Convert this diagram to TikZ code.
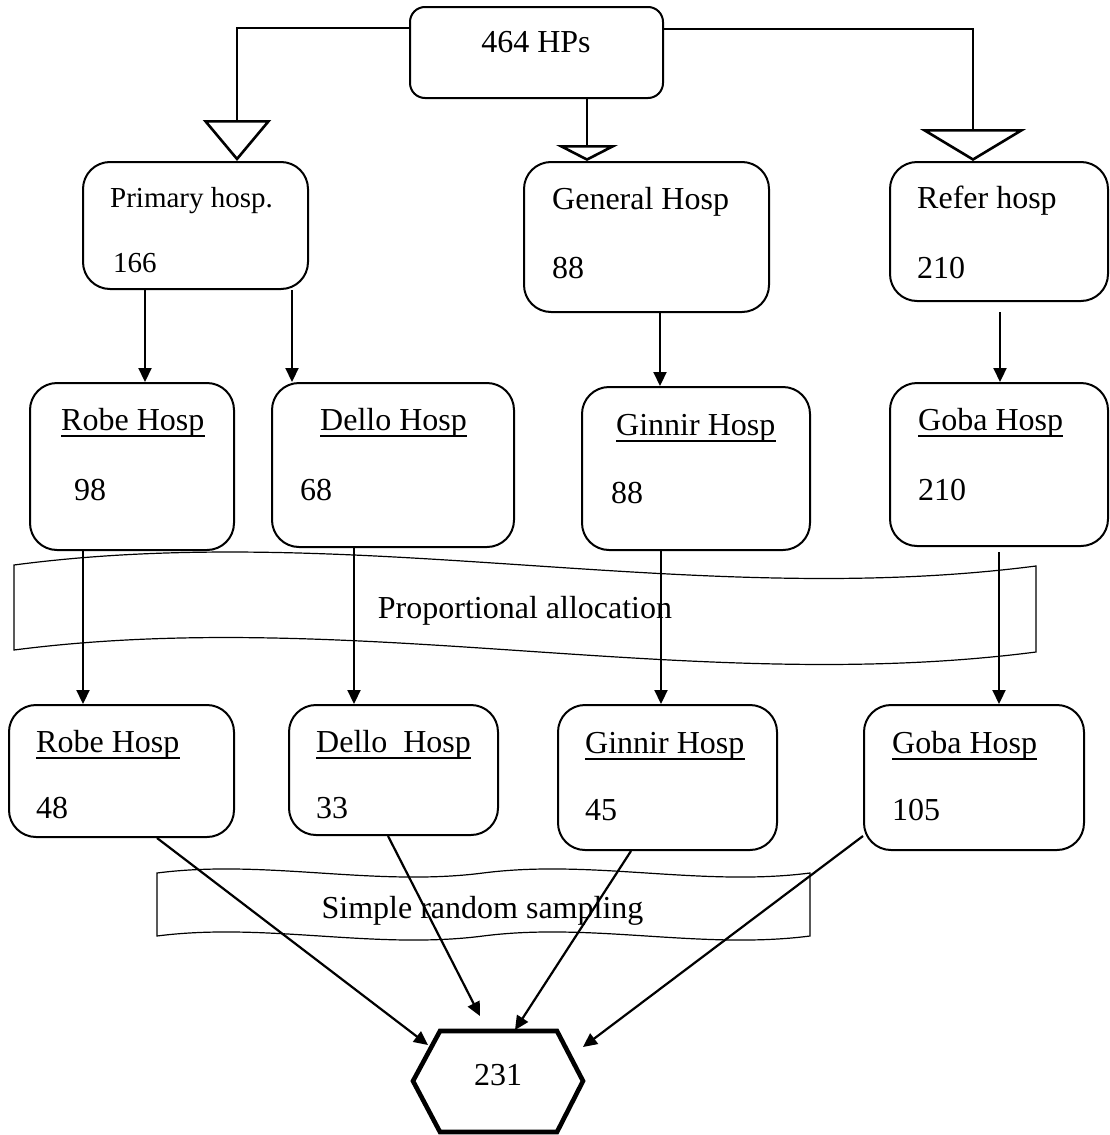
\documentclass[tikz,border=0pt]{standalone}
\usepackage{fontspec}
\setmainfont{Liberation Serif}
\usetikzlibrary{arrows.meta}

\begin{document}
\begin{tikzpicture}[x=1pt, y=-1pt, font=\fontsize{32}{38}\selectfont,
    hbox/.style={draw, line width=2pt, rounded corners=27pt, inner sep=0pt},
    txt/.style={anchor=base west, inner sep=0pt},
    conn/.style={line width=2.6pt},
    arr/.style={line width=2.2pt, -{Triangle[length=14pt,width=13pt]}},
    band/.style={draw, line width=1.2pt, fill=white},
    uline/.style={line width=1.8pt},
    hexline/.style={line width=4.6pt, line join=miter}]
    \useasboundingbox (0,0) rectangle (1109,1135);

    \node[hbox, rounded corners=15pt, minimum width=253pt, minimum height=91pt] (top) at (536.5,52.5) {};
    \node[anchor=base, inner sep=0pt] (toptxt) at (536,52) {464 HPs};

    \foreach \name/\cx/\cy/\w/\h/\title/\tx/\ty/\num/\nx/\ny/\fs in {
        r1a/195.5/225.5/225/127/{Primary hosp.}/110/207/166/113/272/29,
        r1b/646.5/237/245/150/{General Hosp}/552/209/88/552/278/32,
        r1c/999/231.5/218/139/{Refer hosp}/917/208/210/917/278/32} {
        \node[hbox, minimum width=\w*1pt, minimum height=\h*1pt] (\name) at (\cx,\cy) {};
        \node[txt, font=\fontsize{\fs}{\fs}\selectfont] (\name-t) at (\tx,\ty) {\title};
        \node[txt, font=\fontsize{\fs}{\fs}\selectfont] (\name-n) at (\nx,\ny) {\num};
    }

    \foreach \name/\cx/\cy/\w/\h/\title/\tx/\ty/\num/\nx/\ny in {
        r2a/132/466.5/204/167/{Robe Hosp}/61/430/98/74/500,
        r2b/393/465/242/164/{Dello Hosp}/320/430/68/300/500,
        r2c/696/468.5/228/163/{Ginnir Hosp}/616/435/88/611/503,
        r2d/999/464.5/218/163/{Goba Hosp}/918/430/210/918/500,
        r3a/121.5/771/225/132/{Robe Hosp}/36/752/48/36/818,
        r3b/393.5/770/209/130/{Dello\ \ Hosp}/316/752/33/316/818,
        r3c/667.5/777.5/219/145/{Ginnir Hosp}/585/753/45/585/820,
        r3d/974/777.5/220/145/{Goba Hosp}/892/753/105/892/820} {
        \node[hbox, minimum width=\w*1pt, minimum height=\h*1pt] (\name) at (\cx,\cy) {};
        \node[txt] (\name-t) at (\tx,\ty) {\title};
        \draw[uline] ([yshift=-6pt]\name-t.base west) -- ([yshift=-6pt]\name-t.base east);
        \node[txt] (\name-n) at (\nx,\ny) {\num};
    }

    \draw[conn, -{Triangle[open, length=41pt, width=68pt]}] (top.west |- 0,28) -| (237,0 |- r1a.north);
    \draw[conn, -{Triangle[open, length=16pt, width=62pt]}] (587,0 |- top.south) -- (587,0 |- r1b.north);
    \draw[conn, -{Triangle[open, length=32pt, width=106pt]}] (top.east |- 0,29) -| (973,0 |- r1c.north);

    \draw[arr] (145,0 |- r1a.south) -- (145,0 |- r2a.north);
    \draw[arr] (292,0 |- r1a.south) -- (292,0 |- r2b.north);
    \draw[arr] (660,0 |- r1b.south) -- (660,0 |- r2c.north);
    \draw[arr] (1000,312) -- (1000,0 |- r2d.north);

    \draw[band] (14,565) .. controls (355,520) and (695,610) .. (1036,566) -- (1036,652)
        .. controls (695,696) and (355,606) .. (14,650) -- cycle;
    \node[anchor=base, inner sep=0pt] (prop) at (525,618) {Proportional allocation};

    \draw[arr] (83,0 |- r2a.south) -- (83,0 |- r3a.north);
    \draw[arr] (354,0 |- r2b.south) -- (354,0 |- r3b.north);
    \draw[arr] (661,0 |- r2c.south) -- (661,0 |- r3c.north);
    \draw[arr] (999,552) -- (999,0 |- r3d.north);

    \draw[band] (157,873) .. controls (266,859) and (374,887) .. (483,873)
        .. controls (592,859) and (701,887) .. (810,873) -- (810,936)
        .. controls (701,950) and (592,922) .. (483,936)
        .. controls (374,950) and (266,922) .. (157,936) -- cycle;
    \node[anchor=base, inner sep=0pt] (srs) at (482.5,918) {Simple random sampling};

    \draw[hexline] (413,1081) -- (440,1031) -- (557,1031) -- (583,1081) -- (557,1132) -- (440,1132) -- cycle;
    \node[anchor=base, inner sep=0pt] (hex) at (498,1085) {231};
    \coordinate (h1) at (428,1045);
    \coordinate (h2) at (480,1016);
    \coordinate (h3) at (515,1030);
    \coordinate (h4) at (583,1047);

    \draw[arr] (157,0 |- r3a.south) -- (h1);
    \draw[arr] (388,0 |- r3b.south) -- (h2);
    \draw[arr] (631,0 |- r3c.south) -- (h3);
    \draw[arr] (r3d.west |- 0,836) -- (h4);
\end{tikzpicture}
\end{document}
